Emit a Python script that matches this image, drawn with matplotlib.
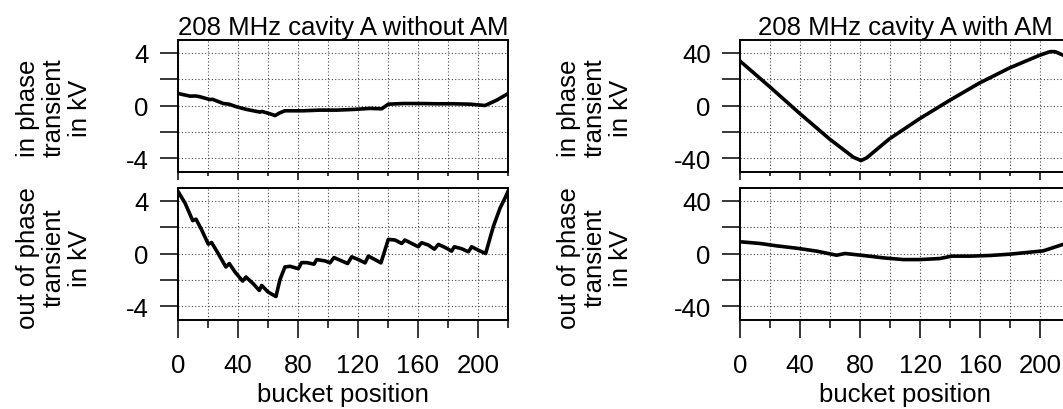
import matplotlib
matplotlib.use("Agg")
import matplotlib.pyplot as plt
from matplotlib.ticker import MultipleLocator

plt.rcParams['font.family'] = ['Liberation Sans', 'DejaVu Sans']
plt.rcParams['axes.unicode_minus'] = False

# ---- data ----
# without AM, in phase transient (kV)
noam_in_x = [0, 8, 12, 14.7, 21.3, 23, 30.2, 34, 39.1, 45.8, 54.7, 56, 61.3, 64.7, 68, 71.3,
             83.6, 94.7, 105.8, 116.9, 128, 135.8, 140.2, 150.2, 161.3, 172.4, 183.6,
             194.7, 204.7, 212.4, 220]
noam_in_y = [0.91, 0.71, 0.72, 0.66, 0.45, 0.47, 0.15, 0.1, -0.1, -0.3, -0.5, -0.45, -0.63,
             -0.76, -0.55, -0.4, -0.4, -0.35, -0.35, -0.3, -0.22, -0.25, 0.1, 0.15, 0.15,
             0.13, 0.13, 0.1, 0.0, 0.4, 0.9]

# without AM, out of phase transient (kV)
noam_out_x = [0, 4.7, 9.8, 12, 15.8, 20.2, 22.4, 26.8, 31.9, 34.2, 38, 43.1, 45.3, 50.2,
              54.2, 55.8, 60.2, 65.3, 68, 71.3, 74.7, 80.2, 82.4, 85.8, 90.7, 92.4, 98,
              101.3, 104, 109.1, 113.1, 115.8, 120.2, 124.7, 126.9, 131.3, 135.3, 140.2,
              144.7, 149.1, 151.3, 155.8, 160.2, 162.4, 166.9, 170.9, 173.6, 178, 182.4,
              184.2, 189.1, 193.6, 195.8, 200.2, 205.1, 210.2, 214.7, 218, 220]
noam_out_y = [4.7, 3.82, 2.49, 2.6, 1.78, 0.71, 0.83, 0.0, -1.02, -0.76, -1.4, -2.09, -1.78,
              -2.29, -2.8, -2.42, -2.93, -3.26, -1.97, -1.02, -0.97, -1.15, -0.69, -0.69,
              -0.81, -0.46, -0.56, -0.71, -0.31, -0.56, -0.76, -0.25, -0.46, -0.71, -0.2,
              -0.46, -0.71, 1.07, 1.02, 0.76, 1.02, 0.76, 0.51, 0.82, 0.64, 0.33, 0.69,
              0.46, 0.18, 0.51, 0.36, 0.13, 0.51, 0.25, 0.0, 2.04, 3.44, 4.2, 4.7]

# with AM, in phase transient (kV)
am_in_x = [0, 20, 39.6, 59.6, 75.6, 80.7, 84.4, 99.6, 119.6, 139.6, 159.6, 179.6, 199.6,
           206.7, 210, 215.1, 220]
am_in_y = [33.7, 14, -5.8, -25.3, -39.2, -41.7, -39.7, -25.3, -10.1, 3.8, 17, 28.4, 38,
           40.8, 40.8, 38.3, 36]

# with AM, out of phase transient (kV)
am_out_x = [0, 13.3, 24.4, 37.8, 51.1, 64.4, 70, 82.2, 95.6, 108.9, 120, 133.3, 141.1,
            153.3, 166.7, 180, 193.3, 202.2, 215.1, 220]
am_out_y = [8.9, 7.6, 5.8, 4.0, 1.8, -1.3, 0.0, -1.5, -3.3, -4.6, -4.6, -3.8, -2.0, -2.0,
            -1.5, -0.5, 1.0, 2.0, 6.8, 9.0]

titles = ["208 MHz cavity A without AM", "208 MHz cavity A with AM"]
ylabel_top = "in phase\ntransient\nin kV"
ylabel_bot = "out of phase\ntransient\nin kV"
xlabel = "bucket position"

FS = 18.5
W, H = 1063, 410
fig = plt.figure(figsize=(W / 100, H / 100), dpi=100)


def px_axes(x0, y0, x1, y1):
    return fig.add_axes([x0 / W, 1 - y1 / H, (x1 - x0) / W, (y1 - y0) / H])


def style(ax, ymax, ystep, bottom):
    ax.set_xlim(0, 220)
    ax.set_ylim(-ymax, ymax)
    ax.xaxis.set_major_locator(MultipleLocator(40))
    ax.xaxis.set_minor_locator(MultipleLocator(20))
    ax.yaxis.set_major_locator(MultipleLocator(2 * ystep))
    ax.yaxis.set_minor_locator(MultipleLocator(ystep))
    ax.grid(True, which='both', linestyle=(0, (1, 2)), color='#444444', linewidth=0.8)
    ax.set_axisbelow(True)
    for s in ax.spines.values():
        s.set_linewidth(1.4)
    ax.tick_params(axis='y', which='both', direction='out', length=13, width=1.1,
                   labelsize=FS, pad=8, left=True, right=False)
    if bottom:
        ax.tick_params(axis='x', which='major', direction='out', length=13, width=1.1,
                       labelsize=FS, pad=11)
        ax.tick_params(axis='x', which='minor', direction='out', length=6, width=1.1)
        ax.set_xlabel(xlabel, fontsize=FS, labelpad=4)
    else:
        ax.tick_params(axis='x', which='major', direction='out', length=5.5, width=1.1,
                       labelbottom=False)
        ax.tick_params(axis='x', which='minor', direction='out', length=3, width=1.1)


panels = [
    (178, noam_in_x, noam_in_y, noam_out_x, noam_out_y, 5, 2, 54),
    (740, am_in_x, am_in_y, am_out_x, am_out_y, 50, 20, 595),
]

for i, (x0, ix, iy, ox, oy, ymax, ystep, labx) in enumerate(panels):
    ax1 = px_axes(x0, 40.5, x0 + 330, 172.5)
    ax2 = px_axes(x0, 188.5, x0 + 330, 320.5)
    ax1.plot(ix, iy, color='black', linewidth=2.6)
    ax2.plot(ox, oy, color='black', linewidth=2.6)
    style(ax1, ymax, ystep, False)
    style(ax2, ymax, ystep, True)
    ax1.set_title(titles[i], fontsize=FS, pad=3)
    fig.text(labx / W, 1 - 108 / H, ylabel_top, rotation=90, ha='center', va='center',
             fontsize=FS, linespacing=1.12, multialignment='center')
    fig.text(labx / W, 1 - 258 / H, ylabel_bot, rotation=90, ha='center', va='center',
             fontsize=FS, linespacing=1.12, multialignment='center')

fig.savefig("out.png", dpi=100)
